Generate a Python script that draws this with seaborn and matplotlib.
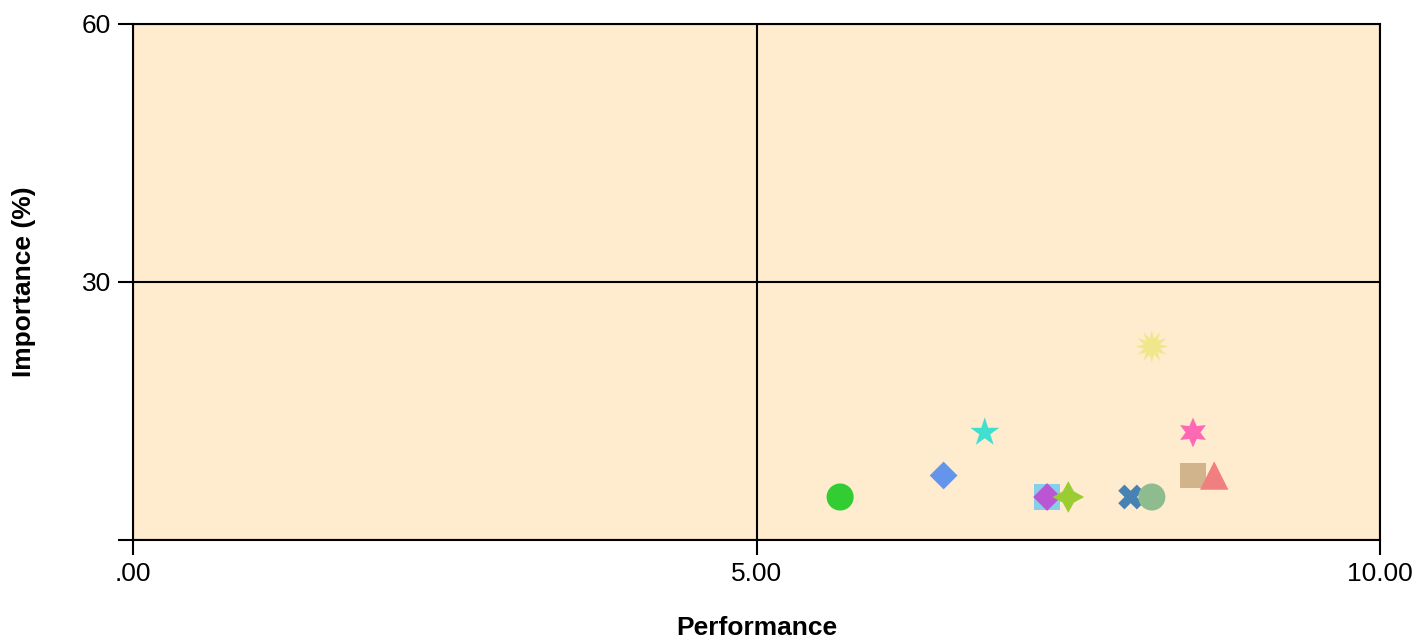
import pandas as pd
import seaborn as sns
from matplotlib import pyplot as plt

# values
items = ['Item 1', 'Item 2', 'Item 3', 'Item 4', 'Item 5', 'Item 6',
         'Item 7', 'Item 8', 'Item 9', 'Item 10', 'Item 11', 'Item 12']
performance = [5.67, 6.50, 6.83, 7.33, 7.33, 7.50, 8.00, 8.17, 8.17, 8.50, 8.50, 8.67]
importance = [5.0, 7.5, 12.5, 5.0, 5.0, 5.0, 5.0, 5.0, 22.5, 12.5, 7.5, 7.5]
colors = ['limegreen', 'cornflowerblue', 'turquoise', 'skyblue', 'mediumorchid',
          'yellowgreen', 'steelblue', 'darkseagreen', 'khaki', 'hotpink', 'tan', 'lightcoral']
markers = ['o', 'D', '*', 's', 'D', (4, 1, 0), 'X', 'o', (12, 1, 0), (6, 1, 0), 's', '^']
sizes = [380, 200, 480, 350, 200, 520, 320, 380, 560, 460, 350, 420]

x_ticks = [0, 5, 10]
x_tick_labels = ['.00', '5.00', '10.00']
y_ticks = [0, 30, 60]
y_tick_labels = ['', '30', '60']

df = pd.DataFrame({'item': items, 'performance': performance, 'importance': importance})

sns.set_style('ticks')
plt.rcParams['font.family'] = ['Liberation Sans', 'DejaVu Sans']
plt.rcParams['text.color'] = 'black'

fig = plt.figure(figsize=(14.16, 6.38), dpi=100)
ax = fig.add_axes([0.094, 0.1536, 0.8806, 0.8088])
ax.set_facecolor('#FFEBCD')

sns.scatterplot(data=df, x='performance', y='importance',
                hue='item', palette=dict(zip(items, colors)),
                style='item', markers=dict(zip(items, markers)),
                size='item', sizes=dict(zip(items, sizes)),
                linewidth=0, legend=False, ax=ax, zorder=3)

ax.set_xlim(0, 10)
ax.set_ylim(0, 60)
ax.set_xticks(x_ticks)
ax.set_xticklabels(x_tick_labels)
ax.set_yticks(y_ticks)
ax.set_yticklabels(y_tick_labels)
ax.tick_params(direction='out', length=11, width=1.5, labelsize=19,
               color='black', labelcolor='black', pad=5)

ax.grid(True, color='black', linewidth=1.5)
ax.set_axisbelow(True)
for s in ax.spines.values():
    s.set_visible(True)
    s.set_linewidth(1.5)
    s.set_color('black')

ax.set_xlabel('Performance', fontsize=19, fontweight='bold', color='black')
ax.set_ylabel('Importance (%)', fontsize=19, fontweight='bold', color='black')
ax.xaxis.set_label_coords(0.5, -0.148)
ax.yaxis.set_label_coords(-0.078, 0.5)

plt.savefig('out.png', dpi=100)
